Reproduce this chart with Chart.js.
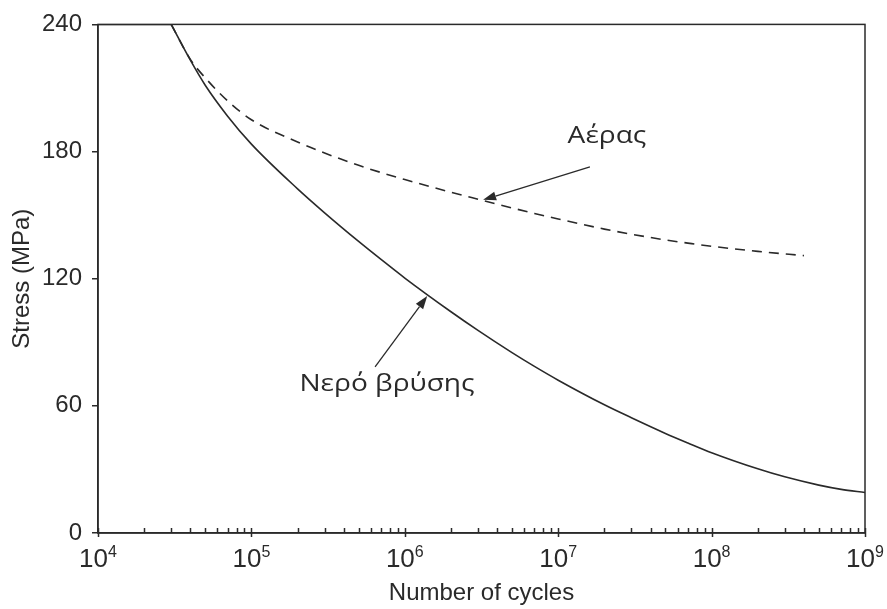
<!DOCTYPE html>
<html>
<head>
<meta charset="utf-8">
<script src="https://cdn.jsdelivr.net/npm/chart.js@4"></script>
<style>
  html, body { margin: 0; padding: 0; background: #fff; }
  canvas { display: block; }
</style>
</head>
<body>
<canvas id="chart" width="887" height="609"></canvas>
<script>
// S-N curves: fatigue stress vs number of cycles, tap water vs air
const plateauCycles = [1e4, 3e4];
const plateauStress = [240, 240];

const tapCycles = [3e4, 4e4, 5e4, 7e4, 1e5, 2e5, 3e5, 5e5, 7e5, 1e6, 2e6, 3e6, 5e6, 7e6, 1e7,
                   2e7, 3e7, 5e7, 7e7, 1e8, 2e8, 3e8, 5e8, 7e8, 1e9];
const tapStress = [240, 223.1, 211.3, 196.7, 183.5, 162.4, 151.1, 137.6, 129.1, 120.3, 104.4, 95.6, 85.1, 78.6, 72.1,
                   60.5, 54.4, 47.0, 42.5, 37.9, 30.3, 26.5, 22.6, 20.6, 19.1];

const airCycles = [3e4, 4e4, 5e4, 7e4, 1e5, 2e5, 3e5, 5e5, 7e5, 1e6, 2e6, 3e6, 5e6, 7e6, 1e7,
                   2e7, 3e7, 5e7, 7e7, 1e8, 2e8, 4e8];
const airStress = [240, 223.5, 214.8, 203.9, 195.0, 184.5, 179.3, 173.5, 170.1, 166.8, 160.8, 157.5, 153.4, 150.8, 148.2,
                   143.4, 141.0, 138.3, 136.8, 135.3, 132.9, 130.9];

const decades = [4, 5, 6, 7, 8, 9];
const stressTicks = [0, 60, 120, 180, 240];

const ink = '#2a2a2a';
const toPoints = (xs, ys) => xs.map((v, i) => ({ x: v, y: ys[i] }));

// labels with arrows, in data coordinates (text anchored at its baseline centre)
const notes = [
  { text: 'Αέρας', at: [2.08e7, 184.0], from: [1.61e7, 172.8], to: [3.24e6, 157.2] },
  { text: 'Νερό βρύσης', at: [7.66e5, 66.8], from: [6.4e5, 78.4], to: [1.4e6, 111.8] },
];

const decorations = {
  id: 'decorations',
  afterDatasetsDraw(chart) {
    const { ctx, chartArea: a, scales: { x, y } } = chart;
    ctx.save();
    ctx.strokeStyle = ink;
    ctx.fillStyle = ink;
    ctx.lineWidth = 1.5;

    // frame
    ctx.strokeRect(a.left, a.top, a.right - a.left, a.bottom - a.top);

    // log ticks on the x axis: minor ones point inward, decades cross the axis
    ctx.beginPath();
    decades.forEach(e => {
      const px = Math.round(x.getPixelForValue(10 ** e)) + 0.5;
      ctx.moveTo(px, a.bottom - 5);
      ctx.lineTo(px, a.bottom + 4);
      if (e < 9) {
        for (let k = 2; k <= 9; k++) {
          const mx = Math.round(x.getPixelForValue(k * 10 ** e)) + 0.5;
          ctx.moveTo(mx, a.bottom - 5);
          ctx.lineTo(mx, a.bottom);
        }
      }
    });
    ctx.stroke();

    // decade labels 10^n
    ctx.textBaseline = 'alphabetic';
    ctx.textAlign = 'left';
    decades.forEach(e => {
      const px = x.getPixelForValue(10 ** e);
      ctx.font = '26px "Liberation Sans", Arial, sans-serif';
      const wBase = ctx.measureText('10').width;
      ctx.font = '16px "Liberation Sans", Arial, sans-serif';
      const wExp = ctx.measureText(String(e)).width;
      const left = px - (wBase + wExp) / 2;
      ctx.font = '26px "Liberation Sans", Arial, sans-serif';
      ctx.fillText('10', left, a.bottom + 34);
      ctx.font = '16px "Liberation Sans", Arial, sans-serif';
      ctx.fillText(String(e), left + wBase, a.bottom + 24);
    });

    // annotations
    ctx.lineWidth = 1.3;
    notes.forEach(n => {
      const x0 = x.getPixelForValue(n.from[0]), y0 = y.getPixelForValue(n.from[1]);
      const x1 = x.getPixelForValue(n.to[0]), y1 = y.getPixelForValue(n.to[1]);
      const ang = Math.atan2(y1 - y0, x1 - x0);
      const len = 13, half = 4.5;
      const bx = x1 - len * Math.cos(ang), by = y1 - len * Math.sin(ang);
      ctx.beginPath();
      ctx.moveTo(x0, y0);
      ctx.lineTo(bx, by);
      ctx.stroke();
      ctx.beginPath();
      ctx.moveTo(x1, y1);
      ctx.lineTo(bx + half * Math.sin(ang), by - half * Math.cos(ang));
      ctx.lineTo(bx - half * Math.sin(ang), by + half * Math.cos(ang));
      ctx.closePath();
      ctx.fill();

      // slightly widened lettering
      ctx.save();
      ctx.translate(x.getPixelForValue(n.at[0]), y.getPixelForValue(n.at[1]));
      ctx.scale(1.17, 1);
      ctx.font = '24px "Open Sans", "Noto Sans", sans-serif';
      ctx.textAlign = 'center';
      ctx.textBaseline = 'alphabetic';
      ctx.fillText(n.text, 0, 0);
      ctx.restore();
    });
    ctx.restore();
  }
};

const lineStyle = {
  borderColor: ink,
  borderWidth: 1.6,
  pointRadius: 0,
  showLine: true,
  fill: false,
  cubicInterpolationMode: 'monotone',
};

const config = {
  type: 'scatter',
  data: {
    datasets: [
      { label: 'plateau', data: toPoints(plateauCycles, plateauStress), ...lineStyle },
      { label: 'Νερό βρύσης', data: toPoints(tapCycles, tapStress), ...lineStyle },
      { label: 'Αέρας', data: toPoints(airCycles, airStress), ...lineStyle, borderDash: [10, 7] },
    ]
  },
  options: {
    responsive: false,
    animation: false,
    events: [],
    layout: { padding: { top: 19, right: 22, left: 0, bottom: 0 } },
    plugins: {
      legend: { display: false },
      tooltip: { enabled: false },
    },
    scales: {
      x: {
        type: 'logarithmic',
        min: 1e4,
        max: 1e9,
        grid: { display: false },
        border: { display: true, color: ink, width: 1.5 },
        ticks: { display: false },
        title: {
          display: true,
          text: 'Number of cycles',
          color: ink,
          font: { family: '"Liberation Sans", Arial, sans-serif', size: 24 },
          padding: { top: 0, bottom: 1 },
        },
        afterFit(scale) { scale.height = 76; },
      },
      y: {
        min: 0,
        max: 240,
        afterBuildTicks(scale) { scale.ticks = stressTicks.map(v => ({ value: v })); },
        grid: {
          display: true,
          drawOnChartArea: false,
          drawTicks: true,
          tickLength: 6,
          color: ink,
          lineWidth: 1.5,
        },
        border: { display: true, color: ink, width: 1.5 },
        ticks: {
          color: ink,
          padding: 10,
          font: { family: '"Liberation Sans", Arial, sans-serif', size: 24 },
        },
        title: {
          display: true,
          text: 'Stress (MPa)',
          color: ink,
          font: { family: '"Liberation Sans", Arial, sans-serif', size: 24 },
          padding: { top: 8, bottom: 0 },
        },
        afterFit(scale) { scale.width = 98; },
      },
    },
  },
  plugins: [decorations],
};

const myChart = new Chart(document.getElementById('chart').getContext('2d'), config);
</script>
</body>
</html>
